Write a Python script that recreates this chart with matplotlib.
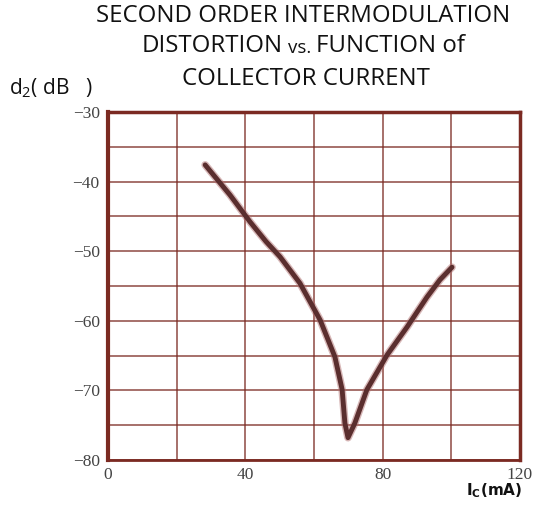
import matplotlib.pyplot as plt
import numpy as np

ic_ma = [28.3, 35.5, 41.4, 46.0, 50.1, 55.9, 61.8, 66.1, 68.2, 69.0, 69.9,
         71.9, 75.4, 81.3, 87.1, 92.9, 96.7, 100.2]
d2_db = [-37.6, -41.9, -45.8, -48.6, -50.8, -54.6, -59.9, -65.2, -69.9, -74.7, -76.8,
         -74.7, -69.9, -64.9, -60.9, -56.6, -54.1, -52.3]

x_ticks = [0, 40, 80, 120]
y_ticks = [-30, -40, -50, -60, -70, -80]

grid_col = '#7b2a22'
line_col = '#5a2e2e'

fig = plt.figure(figsize=(5.39, 5.08), dpi=100)
ax = fig.add_axes([108 / 539, 1 - 460 / 508, 412 / 539, 348 / 508])

ax.plot(ic_ma, d2_db, color='#b07070', lw=5.5, alpha=0.5, solid_capstyle='round')
ax.plot(ic_ma, d2_db, color=line_col, lw=3.5, solid_capstyle='round', solid_joinstyle='round')

ax.set_xlim(0, 120)
ax.set_ylim(-80, -30)
ax.set_xticks(x_ticks)
ax.set_yticks(y_ticks)
ax.set_xticks(np.arange(0, 121, 20), minor=True)
ax.set_yticks(np.arange(-80, -29, 5), minor=True)
ax.grid(which='both', color=grid_col, lw=1.1, alpha=0.85)
ax.tick_params(which='both', length=0)
ax.tick_params(axis='x', pad=5)
ax.tick_params(axis='y', pad=6)

for lbl in ax.get_xticklabels() + ax.get_yticklabels():
    lbl.set_family('Liberation Serif')
    lbl.set_fontsize(12.5)
    lbl.set_color('#444444')

for side, w in [('left', 3), ('top', 2.5), ('right', 2.5), ('bottom', 2)]:
    ax.spines[side].set_color(grid_col)
    ax.spines[side].set_linewidth(w)

tf = dict(family='Open Sans', fontsize=17.3, color='#111111', va='center')
fig.text(303 / 539, 1 - 16 / 508, 'SECOND ORDER INTERMODULATION', ha='center', **tf)
fig.text(142 / 539, 1 - 46 / 508, 'DISTORTION', ha='left', **tf)
fig.text(288 / 539, 1 - 48 / 508, 'vs.', ha='left', family='Open Sans', fontsize=13.5,
         color='#111111', va='center')
fig.text(465 / 539, 1 - 46 / 508, 'FUNCTION of', ha='right', **tf)
fig.text(306 / 539, 1 - 79 / 508, 'COLLECTOR CURRENT', ha='center', **tf)

fig.text(9 / 539, 1 - 88 / 508, r'd$_{\mathregular{2}}$( dB   )', ha='left', va='center',
         family='Open Sans', fontsize=15, color='#111111')
fig.text(522 / 539, 1 - 491 / 508, r'I$_{\mathregular{C}}$(mA)', ha='right', va='center',
         family='DejaVu Sans', fontsize=11, fontweight='bold', color='#111111')

fig.savefig('out.png', dpi=100)
